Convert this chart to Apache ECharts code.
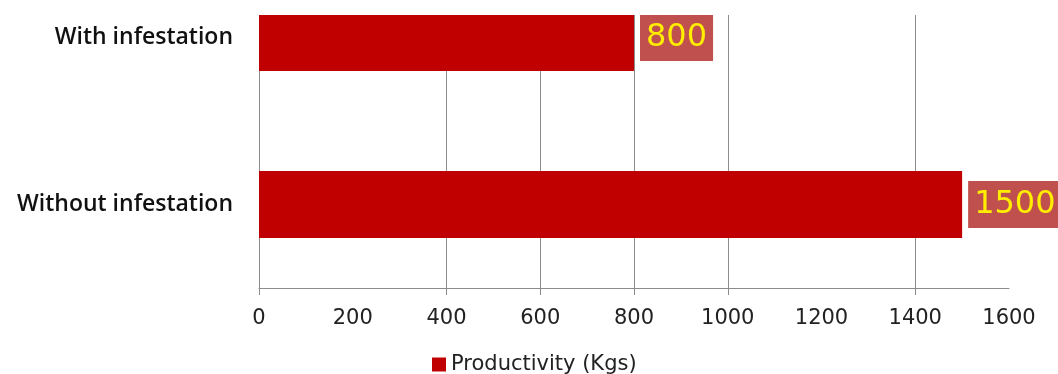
<!DOCTYPE html>
<html lang="en">
  <head>
    <meta charset="UTF-8" />
    <title>Productivity</title>
    <style>
      html,
      body {
        margin: 0;
        width: 100%;
        height: 100%;
        overflow: hidden;
        background: #fff;
      }
      /* the original picture is cut off at the top, so the chart starts above the page */
      #main {
        width: 1058px;
        height: 420px;
        margin-top: -46px;
      }
    </style>
  </head>
  <body>
    <div id="main"></div>
    <script src="https://cdn.jsdelivr.net/npm/echarts@6/dist/echarts.min.js"></script>
    <script>
      // data
      const categories = ["With infestation", "Without infestation"];
      const productivity = [800, 1500];
      const tickLabels = [0, 200, 400, 600, 800, 1000, 1200, 1400, 1600];
      // the scan only shows grid lines / ticks at these values
      const gridValues = [0, 400, 600, 800, 1000, 1400];

      const grey = "#8c8c8c";
      const showGrid = (i, v) => gridValues.includes(Number(v));

      const chart = echarts.init(document.getElementById("main"));
      chart.setOption({
        animation: false,
        textStyle: { fontFamily: "DejaVu Sans" },
        grid: { left: 259, right: 49, top: 0, bottom: 86 },
        legend: {
          data: ["Productivity (Kgs)"],
          left: 427,
          top: 395,
          icon: "rect",
          itemWidth: 14,
          itemHeight: 14,
          textStyle: { fontSize: 21, color: "#222" },
        },
        xAxis: [
          {
            type: "value",
            min: 0,
            max: 1600,
            interval: 200,
            axisLine: { show: true, lineStyle: { color: grey } },
            axisTick: { show: false },
            axisLabel: {
              formatter: (v) => String(v),
              fontSize: 21,
              color: "#222",
              margin: 20,
            },
            splitLine: { show: false },
          },
          {
            // same scale as a category axis, only used to pick which
            // grid lines and ticks are shown
            type: "category",
            position: "bottom",
            data: tickLabels.map(String),
            boundaryGap: false,
            axisLine: { show: false },
            axisLabel: { show: false },
            axisTick: {
              show: true,
              length: 7,
              interval: showGrid,
              lineStyle: { color: grey },
            },
            splitLine: {
              show: true,
              interval: showGrid,
              lineStyle: { color: grey },
            },
          },
        ],
        yAxis: {
          type: "category",
          data: categories,
          inverse: true,
          axisLine: { lineStyle: { color: grey } },
          axisTick: { length: 9, lineStyle: { color: grey } },
          axisLabel: {
            fontFamily: "Open Sans",
            fontSize: 23,
            fontWeight: 600,
            color: "#111",
            margin: 26,
          },
        },
        series: [
          {
            name: "Productivity (Kgs)",
            type: "bar",
            xAxisIndex: 0,
            data: productivity,
            barWidth: 67,
            itemStyle: { color: "#c00000" },
            label: {
              show: true,
              position: "right",
              distance: 6,
              color: "#ffee00",
              fontSize: 32,
              lineHeight: 35,
              backgroundColor: "#c0504d",
              padding: [6, 6, 6, 6],
            },
          },
        ],
        graphic: [
          {
            type: "rect",
            z: 100,
            shape: { x: 0, y: 0, width: 1058, height: 61 },
            style: { fill: "#fff" },
          },
        ],
      });
    </script>
  </body>
</html>
